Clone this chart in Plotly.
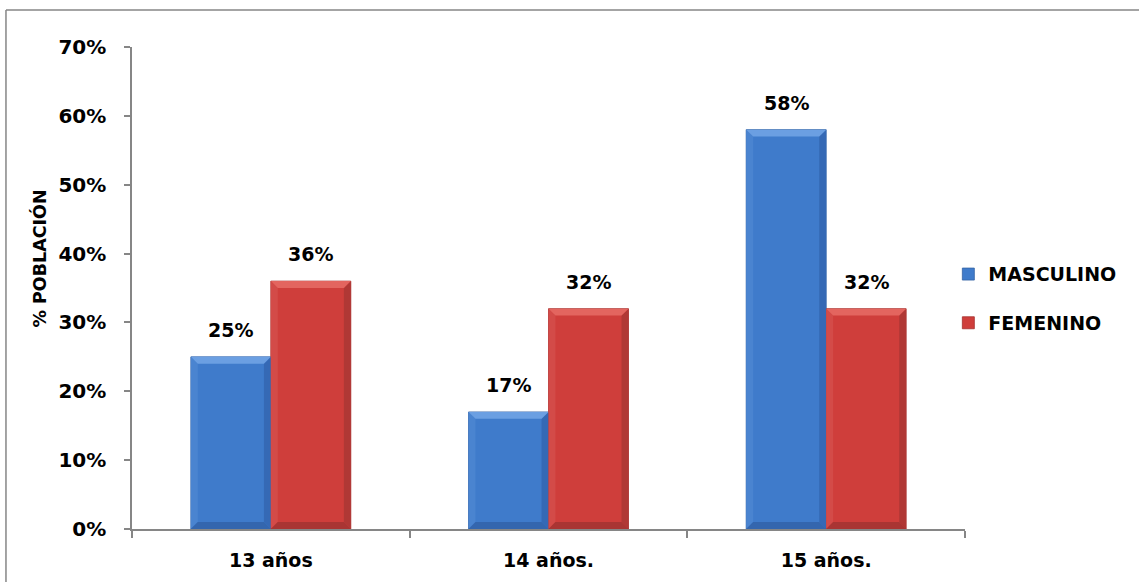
import plotly.graph_objects as go

categories = ["13 años", "14 años.", "15 años."]
masculino = [25, 17, 58]
femenino = [36, 32, 32]
y_ticks = [0, 10, 20, 30, 40, 50, 60, 70]
y_tick_labels = [f"{v}%" for v in y_ticks]

FONT = "'DejaVu Sans', Verdana, sans-serif"
AXIS = "#868686"
BARGAP = 0.424

# body, top face, left face, right face, bottom face, outline
BLUE = dict(body="#3F7BCB", top="#6B9FE2", left="#4A84D0", right="#3569B5", bottom="#3466AE", edge="#3462A3")
RED = dict(body="#CF3E3B", top="#E3655F", left="#D34B48", right="#B03835", bottom="#A93533", edge="#A3302D")

fig = go.Figure()
fig.add_trace(go.Bar(
    name="<b>MASCULINO</b>", x=categories, y=masculino,
    marker=dict(color=BLUE["body"], line=dict(color=BLUE["edge"], width=0.8)),
    legendgroup="m",
))
fig.add_trace(go.Bar(
    name="<b>FEMENINO</b>", x=categories, y=femenino,
    marker=dict(color=RED["body"], line=dict(color=RED["edge"], width=0.8)),
    legendgroup="f",
))

# bevelled faces on every bar, placed in data units of the axes
bar_w = (1 - BARGAP) / 2
dx, dy = 0.025, 1.0
shapes = []
for s_idx, (series, pal) in enumerate(((masculino, BLUE), (femenino, RED))):
    for i, val in enumerate(series):
        x0 = i - bar_w + s_idx * bar_w
        x1 = x0 + bar_w
        faces = [
            (pal["left"], [(x0, 0), (x0, val), (x0 + dx, val - dy), (x0 + dx, dy)]),
            (pal["right"], [(x1, 0), (x1, val), (x1 - dx, val - dy), (x1 - dx, dy)]),
            (pal["bottom"], [(x0, 0), (x1, 0), (x1 - dx, dy), (x0 + dx, dy)]),
            (pal["top"], [(x0, val), (x1, val), (x1 - dx, val - dy), (x0 + dx, val - dy)]),
        ]
        for color, pts in faces:
            path = "M " + " L ".join(f"{px},{py}" for px, py in pts) + " Z"
            shapes.append(dict(type="path", xref="x", yref="y", path=path,
                               fillcolor=color, line=dict(width=0), layer="above"))

# chart frame (top and left edges fall inside the page)
shapes += [
    dict(type="line", xref="paper", yref="paper", x0=-0.1513, x1=1.3, y0=1.0768, y1=1.0768,
         line=dict(color=AXIS, width=1.5)),
    dict(type="line", xref="paper", yref="paper", x0=-0.1513, x1=-0.1513, y0=-0.2, y1=1.0768,
         line=dict(color=AXIS, width=1.5)),
]

# value labels above each bar
annotations = []
for series, shift in ((masculino, -40), (femenino, 40)):
    for cat, val in zip(categories, series):
        annotations.append(dict(
            x=cat, y=val, xref="x", yref="y", text=f"<b>{val}%</b>",
            showarrow=False, xshift=shift, yshift=14, yanchor="bottom",
            font=dict(family=FONT, size=19, color="#000000"),
        ))

# axis title
annotations.append(dict(
    x=-0.111, y=0.560, xref="paper", yref="paper", text="<b>% POBLACIÓN</b>",
    textangle=-90, showarrow=False, xanchor="center", yanchor="middle",
    font=dict(family=FONT, size=17.5, color="#000000"),
))

fig.update_layout(
    width=1139, height=582,
    margin=dict(l=132, r=174, t=47, b=53),
    paper_bgcolor="white", plot_bgcolor="white",
    barmode="group", bargap=BARGAP, bargroupgap=0,
    showlegend=True,
    legend=dict(
        x=0.980, y=0.568, xanchor="left", yanchor="top",
        font=dict(family=FONT, size=19, color="#000000"),
        tracegroupgap=21, itemwidth=30,
        bgcolor="rgba(0,0,0,0)",
    ),
    annotations=annotations,
    shapes=shapes,
    font=dict(family=FONT, color="#000000"),
)

fig.update_xaxes(
    type="category", showgrid=False, showline=True, linecolor=AXIS, linewidth=1.5,
    ticks="outside", tickson="boundaries", ticklen=7, tickcolor=AXIS, tickwidth=1.5,
    tickfont=dict(family=FONT, size=19, color="#000000"),
    ticklabelstandoff=13,
    tickvals=categories, ticktext=[f"<b>{c}</b>" for c in categories],
)
fig.update_yaxes(
    range=[0, 70], showgrid=False, showline=True, linecolor=AXIS, linewidth=1.5,
    ticks="outside", ticklen=6, tickcolor=AXIS, tickwidth=1.5,
    tickvals=y_ticks, ticktext=[f"<b>{t}</b>" for t in y_tick_labels],
    tickfont=dict(family=FONT, size=20, color="#000000"),
    ticklabelstandoff=14,
    zeroline=False,
)

fig.write_html("out.html")
